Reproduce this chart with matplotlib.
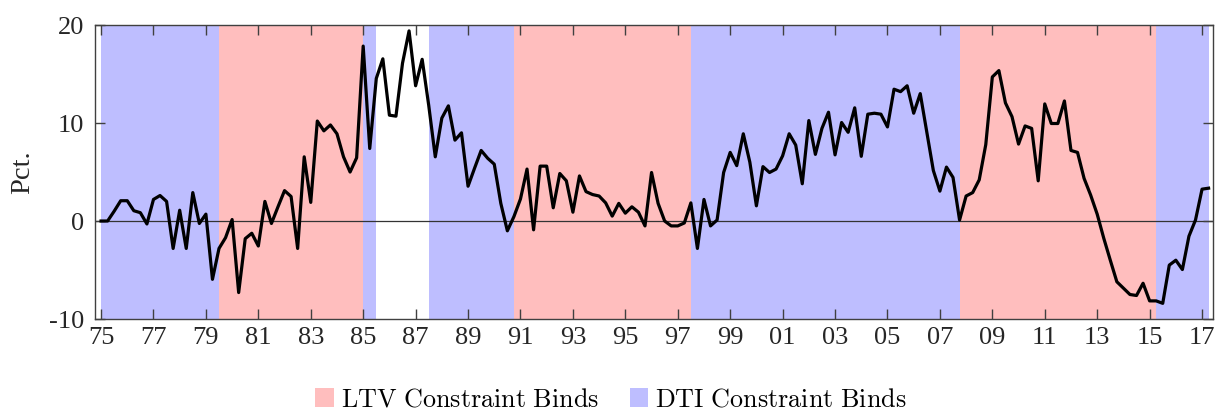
import matplotlib.pyplot as plt
from matplotlib.patches import Patch
import numpy as np

# Quarterly growth, 1975Q1 - 2017Q2 (pct.)
start_year = 1975.0
growth = [
    0.0, 0.0, 1.0, 2.07, 2.07, 1.05, 0.85, -0.3, 2.2, 2.6,
    2.0, -2.8, 1.1, -2.8, 2.9, -0.25, 0.7, -5.95, -2.8, -1.7,
    0.15, -7.3, -1.8, -1.25, -2.55, 2.0, -0.25, 1.45, 3.1, 2.5,
    -2.8, 6.55, 1.9, 10.2, 9.2, 9.8, 8.9, 6.55, 5.0, 6.45,
    17.85, 7.4, 14.55, 16.55, 10.8, 10.7, 16.1, 19.4, 13.8, 16.5,
    11.8, 6.55, 10.5, 11.75, 8.25, 9.0, 3.55, 5.4, 7.2, 6.4,
    5.8, 1.8, -1.0, 0.45, 2.25, 5.3, -0.9, 5.6, 5.6, 1.35,
    4.85, 4.1, 0.9, 4.6, 3.0, 2.7, 2.55, 1.85, 0.5, 1.8,
    0.8, 1.45, 0.9, -0.5, 4.95, 1.8, 0.0, -0.5, -0.5, -0.2,
    1.85, -2.8, 2.2, -0.5, 0.1, 4.95, 7.0, 5.65, 8.9, 6.0,
    1.55, 5.55, 4.95, 5.3, 6.65, 8.9, 7.75, 3.8, 10.25, 6.8,
    9.45, 11.1, 6.75, 10.05, 9.05, 11.55, 6.6, 10.9, 11.0, 10.9,
    9.6, 13.45, 13.2, 13.8, 11.0, 13.0, 9.1, 5.15, 3.05, 5.5,
    4.45, 0.1, 2.55, 2.9, 4.2, 7.8, 14.7, 15.35, 12.05, 10.65,
    7.85, 9.7, 9.45, 4.1, 11.95, 9.95, 9.95, 12.25, 7.2, 7.0,
    4.35, 2.65, 0.7, -1.75, -4.0, -6.2, -6.85, -7.5, -7.6, -6.35,
    -8.15, -8.15, -8.4, -4.5, -4.0, -4.95, -1.55, 0.1, 3.25, 3.35,
]

# Periods in which each constraint binds (start, end)
ltv_periods = [(1979.5, 1985.0), (1990.75, 1997.5), (2007.75, 2015.25)]
dti_periods = [(1975.0, 1979.5), (1985.0, 1985.5), (1987.5, 1990.75),
               (1997.5, 2007.75), (2015.25, 2017.25)]

tick_years = list(range(1975, 2018, 2))

ltv_color = (1.0, 0.745, 0.745)
dti_color = (0.745, 0.745, 1.0)

plt.rcParams['axes.unicode_minus'] = False
plt.rcParams['mathtext.fontset'] = 'cm'

dates = start_year + np.arange(len(growth)) / 4.0

fig = plt.figure(figsize=(12.15, 4.12), dpi=100)
ax = fig.add_axes([0.0782, 0.2257, 0.9202, 0.7136])

for a, b in ltv_periods:
    ax.axvspan(a, b, color=ltv_color, lw=0, zorder=0)
for a, b in dti_periods:
    ax.axvspan(a, b, color=dti_color, lw=0, zorder=0)

ax.axhline(0, color='0.2', lw=0.9, zorder=1)
ax.plot(dates, growth, color='black', lw=2.3, zorder=2)

ax.set_xlim(1974.77, 2017.42)
ax.set_ylim(-10, 20)
ax.set_yticks([-10, 0, 10, 20])
ax.set_xticks(tick_years)
ax.set_xticklabels([f'{y % 100:02d}' for y in tick_years])

for lab in ax.get_xticklabels() + ax.get_yticklabels():
    lab.set_fontfamily('Liberation Serif')
    lab.set_fontsize(19)
    lab.set_color('0.15')

ax.tick_params(direction='in', length=7, width=1.0, color='0.25',
               top=True, right=True)
ax.tick_params(axis='x', pad=6)
ax.tick_params(axis='y', pad=8)
for s in ax.spines.values():
    s.set_color('0.25')
    s.set_linewidth(1.0)

ax.set_ylabel('Pct.', fontfamily='Liberation Serif', fontsize=20.5,
              color='0.15', labelpad=10)

handles = [Patch(facecolor=ltv_color, edgecolor='none'),
           Patch(facecolor=dti_color, edgecolor='none')]
labels = [r'$\mathrm{LTV\ Constraint\ Binds}$', r'$\mathrm{DTI\ Constraint\ Binds}$']
fig.legend(handles, labels, loc='center', bbox_to_anchor=(0.503, 0.03),
           ncol=2, frameon=False, fontsize=18.8, handlelength=0.7,
           handleheight=0.75, handletextpad=0.27, columnspacing=1.2)

fig.savefig('out.png', dpi=100)
